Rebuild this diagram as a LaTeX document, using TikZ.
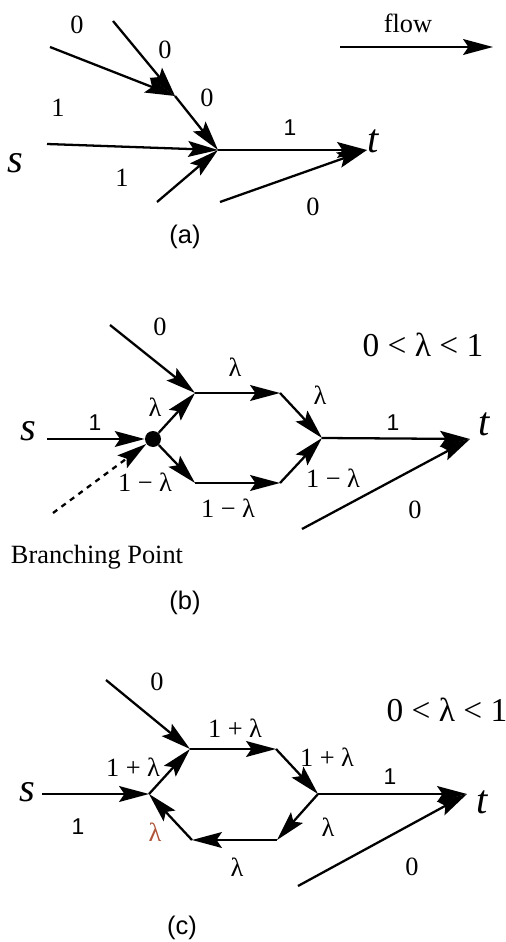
\documentclass[tikz,border=0pt]{standalone}
\usepackage{fontspec}
\setmainfont{Liberation Serif}
\newfontfamily\sanslab{Liberation Sans}
\usepackage{tikz}
\usetikzlibrary{arrows.meta}
\definecolor{lamRed}{RGB}{176,84,56}

\begin{document}
\begin{tikzpicture}[
    x=0.02cm, y=-0.02cm,
    edge/.style={line width=1.3pt, draw=black},
    arrow/.style={edge, -{Stealth[length=17pt, width=9pt, inset=3pt]}},
    lbl/.style={inner sep=0pt, font=\fontsize{15}{17}\selectfont},
    slbl/.style={inner sep=0pt, font=\sanslab\fontsize{13}{15}\selectfont},
    term/.style={inner sep=0pt, font=\fontsize{23}{25}\selectfont\itshape},
    bound/.style={inner sep=0pt, font=\fontsize{19}{21}\selectfont},
    caption/.style={inner sep=0pt, font=\sanslab\fontsize{14.5}{16}\selectfont},
    branch/.style={circle, fill=black, inner sep=0pt, minimum size=0.32cm}
  ]
    \useasboundingbox (0,0) rectangle (506,942);

    % (a)
    \coordinate (inA1) at (50,47);
    \coordinate (inA2) at (113,21);
    \coordinate (mA) at (175,96);
    \coordinate (inA3) at (47,144);
    \coordinate (inA4) at (157,202);
    \coordinate (jA) at (218,150);
    \coordinate (endA) at (367,150);
    \coordinate (inA5) at (220,202);
    \coordinate (flowL) at (340,47);
    \coordinate (flowR) at (493,47);

    \node[term] (sA) at (15,163) {s};
    \node[term] (tA) at (373,141) {t};
    \node[lbl] (fA) at (408,23) {flow};
    \node[lbl] (a1) at (77,25) {0};
    \node[lbl] (a2) at (165,50) {0};
    \node[lbl] (a3) at (207,98) {0};
    \node[lbl] (a4) at (58,108) {1};
    \node[lbl] (a5) at (122,178) {1};
    \node[slbl] (a6) at (290,128) {1};
    \node[lbl] (a7) at (313,207) {0};
    \node[caption] (capA) at (185,237) {(a)};

    \draw[arrow] (inA1) -- (mA);
    \draw[arrow] (inA2) -- (mA);
    \draw[arrow] (mA) -- (jA);
    \draw[arrow] (inA3) -- (jA);
    \draw[arrow] (inA4) -- (jA);
    \draw[arrow] (jA) -- (endA);
    \draw[arrow] (inA5) -- (endA);
    \draw[arrow] (flowL) -- (flowR);

    % (b)
    \node[branch] (bp) at (153,439) {};
    \coordinate (inB0) at (47,439);
    \coordinate (inB1) at (110,325);
    \coordinate (inB2) at (53,513);
    \coordinate (tlB) at (195,393);
    \coordinate (trB) at (280,393);
    \coordinate (blB) at (195,483);
    \coordinate (brB) at (280,483);
    \coordinate (jB) at (322,438);
    \coordinate (endB) at (470,439);
    \coordinate (inB3) at (302,529);

    \node[term] (sB) at (28,431) {s};
    \node[term] (tB) at (484,424) {t};
    \node[lbl] (b1) at (160,327) {0};
    \node[slbl] (b2) at (95,423) {1};
    \node[lbl] (b3) at (155,407) {λ};
    \node[lbl] (b4) at (235,367) {λ};
    \node[lbl] (b5) at (320,395) {λ};
    \node[lbl] (b6) at (145,482) {1 − λ};
    \node[lbl] (b7) at (228,508) {1 − λ};
    \node[lbl] (b8) at (333,478) {1 − λ};
    \node[slbl] (b9) at (393,423) {1};
    \node[lbl] (b10) at (415,510) {0};
    \node[bound] (rB) at (423,345) {0 < λ < 1};
    \node[lbl] (bpLbl) at (97,557) {Branching Point};
    \node[caption] (capB) at (185,603) {(b)};

    \draw[arrow] (inB0) -- (bp);
    \draw[arrow, dashed] (inB2) -- (bp);
    \draw[arrow] (inB1) -- (tlB);
    \draw[arrow] (bp) -- (tlB);
    \draw[arrow] (tlB) -- (trB);
    \draw[arrow] (trB) -- (jB);
    \draw[arrow] (bp) -- (blB);
    \draw[arrow] (blB) -- (brB);
    \draw[arrow] (brB) -- (jB);
    \draw[arrow] (jB) -- (endB);
    \draw[arrow] (inB3) -- (endB);

    % (c)
    \coordinate (inC0) at (42,794);
    \coordinate (inC1) at (106,680);
    \coordinate (lC) at (149,794);
    \coordinate (tlC) at (190,749);
    \coordinate (trC) at (276,749);
    \coordinate (jC) at (318,794);
    \coordinate (brC) at (277,840);
    \coordinate (blC) at (192,840);
    \coordinate (endC) at (467,794);
    \coordinate (inC2) at (298,886);

    \node[term] (sC) at (27,792) {s};
    \node[term] (tC) at (482,802) {t};
    \node[lbl] (c1) at (157,682) {0};
    \node[slbl] (c2) at (78,827) {1};
    \node[lbl] (c3) at (133,767) {1 + λ};
    \node[lbl] (c4) at (235,728) {1 + λ};
    \node[lbl] (c5) at (327,757) {1 + λ};
    \node[slbl] (c6) at (390,777) {1};
    \node[lbl] (c7) at (328,827) {λ};
    \node[lbl] (c8) at (237,867) {λ};
    \node[lbl, text=lamRed] (c9) at (155,832) {λ};
    \node[lbl] (c10) at (412,867) {0};
    \node[bound] (rC) at (447,710) {0 < λ < 1};
    \node[caption] (capC) at (182,928) {(c)};

    \draw[arrow] (inC0) -- (lC);
    \draw[arrow] (inC1) -- (tlC);
    \draw[arrow] (lC) -- (tlC);
    \draw[arrow] (tlC) -- (trC);
    \draw[arrow] (trC) -- (jC);
    \draw[arrow] (jC) -- (endC);
    \draw[arrow] (inC2) -- (endC);
    \draw[arrow] (jC) -- (brC);
    \draw[arrow] (brC) -- (blC);
    \draw[arrow] (blC) -- (lC);
  \end{tikzpicture}
\end{document}
